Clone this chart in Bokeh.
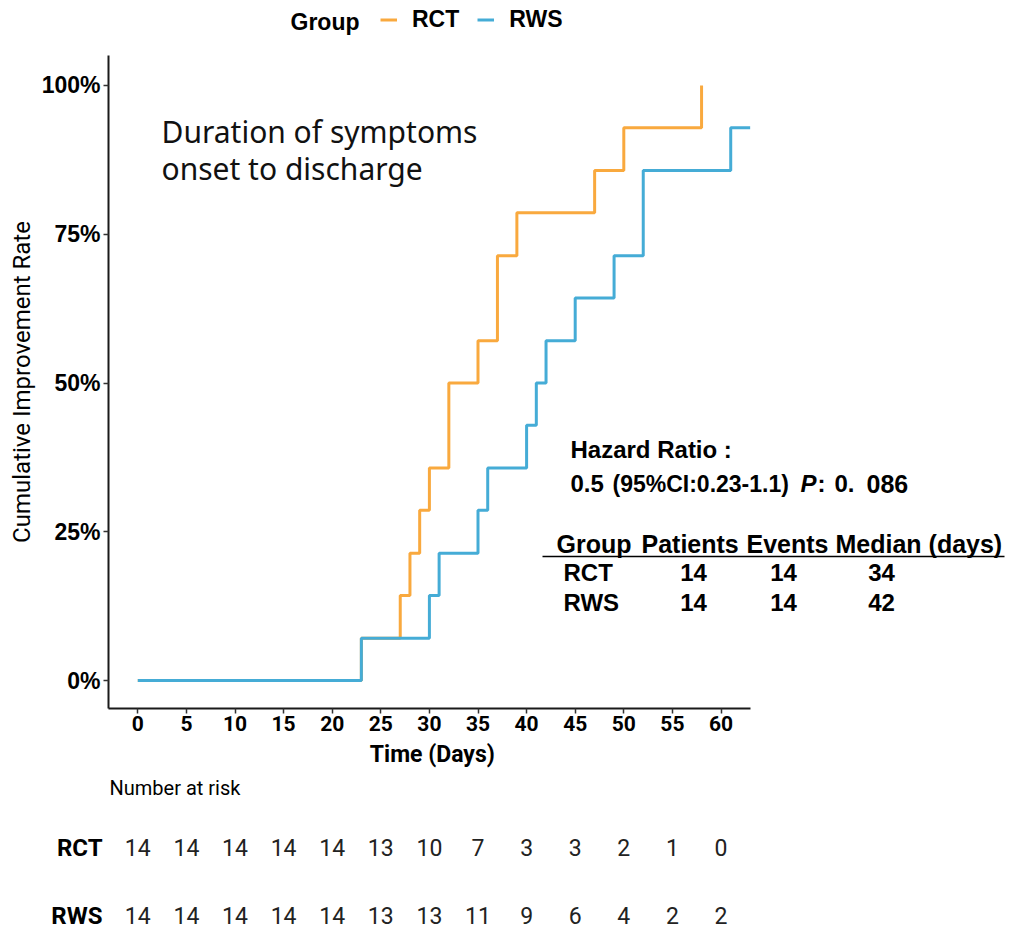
from bokeh.plotting import figure
from bokeh.layouts import column
from bokeh.models import (Range1d, FixedTicker, NumeralTickFormatter, Label,
                          Legend, LegendItem, Arrow, ColumnDataSource)
from bokeh.core.properties import value
from bokeh.embed import file_html
from bokeh.resources import INLINE

# ---------------- data ----------------
group_names = ["RCT", "RWS"]
rct_time = [0, 23, 27, 28, 29, 30, 32, 35, 37, 39, 47, 50, 58]
rct_rate = [0.0, 0.071, 0.143, 0.214, 0.286, 0.357, 0.5, 0.571, 0.714, 0.786, 0.857, 0.929, 1.0]
rws_time = [0, 23, 30, 31, 35, 36, 40, 41, 42, 45, 49, 52, 61, 63]
rws_rate = [0.0, 0.071, 0.143, 0.214, 0.286, 0.357, 0.429, 0.5, 0.571, 0.643, 0.714, 0.857, 0.929, 0.929]
x_ticks = [0, 5, 10, 15, 20, 25, 30, 35, 40, 45, 50, 55, 60]
y_ticks = [0.0, 0.25, 0.5, 0.75, 1.0]
risk_rct = [14, 14, 14, 14, 14, 13, 10, 7, 3, 3, 2, 1, 0]
risk_rws = [14, 14, 14, 14, 14, 13, 13, 11, 9, 6, 4, 2, 2]
table_header = ["Group", "Patients", "Events", "Median (days)"]
patients = [14, 14]
events = [14, 14]
median_days = [34, 42]
hr_title = "Hazard Ratio :"
hr_est = "0.5"
hr_ci = "(95%CI:0.23-1.1)"
p_label = "P"
p_value = [":", "0.", "086"]
note_lines = ["Duration of symptoms", "onset to discharge"]

ORANGE = "#F9A93E"
BLUE = "#45ACD6"
FL, FR, FB = 108, 1005, 708      # page x of frame left/right, page y of main frame bottom
PX_PER_DAY = 9.72
X_LO = -(137.3 - FL) / PX_PER_DAY
X_HI = X_LO + (FR - FL) / PX_PER_DAY
AX_HI = 63.0                     # x axis line stops at day 63

# ---------------- top strip: legend ----------------
T = figure(frame_width=FR - FL, frame_height=55, x_range=Range1d(FL, FR),
           y_range=Range1d(55, 0), x_axis_location=None, y_axis_location=None,
           min_border_left=FL, min_border_right=0, min_border_top=0, min_border_bottom=0,
           toolbar_location=None, output_backend="svg")
T.outline_line_color = None
T.xgrid.visible = False
T.ygrid.visible = False
k_rct = T.line(x=[0, 1], y=[0, 0], line_color=ORANGE, line_width=3)
k_rws = T.line(x=[0, 1], y=[0, 0], line_color=BLUE, line_width=3)
legend = Legend(items=[LegendItem(label=value(group_names[0]), renderers=[k_rct]),
                       LegendItem(label=value(group_names[1]), renderers=[k_rws])],
                orientation="horizontal", location=(380 - FL, 22),
                padding=0, margin=0, spacing=18, label_standoff=15,
                glyph_width=17, glyph_height=25, label_height=25,
                border_line_color=None, background_fill_alpha=0,
                label_text_font="Liberation Sans", label_text_font_style="bold",
                label_text_font_size="23px", label_text_color="black")
T.add_layout(legend)
T.add_layout(Label(x=290, y=21, text="Group", text_font="Liberation Sans",
                   text_font_style="bold", text_font_size="23px",
                   text_baseline="middle", text_color="black"))

# ---------------- main plot ----------------
M = figure(frame_width=FR - FL, frame_height=653,
           x_range=Range1d(X_LO, X_HI), y_range=Range1d(-0.047, 1.0504),
           output_backend="svg", toolbar_location=None,
           min_border_left=FL, min_border_right=0,
           min_border_top=0, min_border_bottom=34)
M.xgrid.visible = False
M.ygrid.visible = False
M.outline_line_color = None

M.step(rct_time, rct_rate, mode="after", line_color=ORANGE, line_width=3)
M.step(rws_time, rws_rate, mode="after", line_color=BLUE, line_width=3)

for ax in (M.xaxis[0], M.yaxis[0]):
    ax.axis_line_width = 2
    ax.axis_line_color = "#1a1a1a"
    ax.major_tick_line_color = "#333333"
    ax.major_tick_line_width = 1.5
    ax.major_tick_out = 5
    ax.major_tick_in = 0
    ax.minor_tick_line_color = None
    ax.major_label_text_color = "black"
    ax.axis_label_text_color = "black"

M.xaxis.bounds = (X_LO, AX_HI)
M.xaxis.ticker = FixedTicker(ticks=x_ticks)
M.xaxis.major_label_text_font = "Roboto"
M.xaxis.major_label_text_font_style = "bold"
M.xaxis.major_label_text_font_size = "21px"
M.xaxis.major_label_standoff = 2

M.yaxis.ticker = FixedTicker(ticks=y_ticks)
M.yaxis.formatter = NumeralTickFormatter(format="0%")
M.yaxis.major_label_text_font = "Liberation Sans"
M.yaxis.major_label_text_font_style = "bold"
M.yaxis.major_label_text_font_size = "23px"
M.yaxis.major_label_standoff = 3
M.yaxis.axis_label = "Cumulative Improvement Rate"
M.yaxis.axis_label_text_font = "Roboto"
M.yaxis.axis_label_text_font_style = "normal"
M.yaxis.axis_label_text_font_size = "24px"
M.yaxis.axis_label_standoff = 3


def lab(fig, x, y, text, size, font="Liberation Sans", style="bold", align="left",
        baseline="middle", color="black", units="screen"):
    fig.add_layout(Label(x=x, y=y, x_units=units, y_units=units, text=text,
                         text_font=font, text_font_style=style, text_font_size=size,
                         text_align=align, text_baseline=baseline, text_color=color))


def mx(px):
    return px - FL


def my(py):
    return FB - py


# note inside the panel
lab(M, mx(161), my(131), note_lines[0], "30px", font="Noto Sans", style="normal",
    color="#111111")
lab(M, mx(161), my(168), note_lines[1], "30px", font="Noto Sans", style="normal",
    color="#111111")

# hazard ratio text
lab(M, mx(570), my(449), hr_title, "24px")
lab(M, mx(570), my(483), hr_est, "24px")
lab(M, mx(612), my(483), hr_ci, "23px")
lab(M, mx(800), my(483), p_label, "24px", style="bold italic")
lab(M, mx(817), my(483), p_value[0], "24px")
lab(M, mx(834), my(483), p_value[1], "24px")
lab(M, mx(866), my(483), p_value[2], "25px")

# summary table
header_x = [556, 641, 746, 835]
for hx, h in zip(header_x, table_header):
    lab(M, mx(hx), my(543), h, "25px")
M.add_layout(Arrow(start=None, end=None, x_start=mx(542), y_start=my(556),
                   x_end=mx(1004), y_end=my(556), start_units="screen",
                   end_units="screen", line_color="black", line_width=1.5))
row_y = [572, 602]
for i, g in enumerate(group_names):
    lab(M, mx(563), my(row_y[i]), g, "24px")
    lab(M, mx(693), my(row_y[i]), str(patients[i]), "24px", align="center")
    lab(M, mx(783), my(row_y[i]), str(events[i]), "24px", align="center")
    lab(M, mx(881), my(row_y[i]), str(median_days[i]), "24px", align="center")

# ---------------- risk table ----------------
R = figure(frame_width=FR - FL, frame_height=187, x_range=M.x_range,
           y_range=Range1d(929, 742), x_axis_location=None,
           output_backend="svg", toolbar_location=None,
           min_border_left=FL, min_border_right=0, min_border_top=0,
           min_border_bottom=0)
R.xgrid.visible = False
R.ygrid.visible = False
R.outline_line_color = None
risk_y = [847, 915]
R.yaxis.ticker = FixedTicker(ticks=risk_y)
R.yaxis.major_label_overrides = {risk_y[0]: group_names[0], risk_y[1]: group_names[1]}
R.yaxis.axis_line_color = None
R.yaxis.major_tick_line_color = None
R.yaxis.minor_tick_line_color = None
R.yaxis.major_tick_out = 0
R.yaxis.major_tick_in = 0
R.yaxis.major_label_standoff = 6
R.yaxis.major_label_text_font = "Roboto"
R.yaxis.major_label_text_font_style = "bold"
R.yaxis.major_label_text_font_size = "24px"
R.yaxis.major_label_text_color = "black"

R.add_layout(Label(x=(X_LO + AX_HI) / 2, y=754, x_offset=3, text="Time (Days)",
                   text_font="Roboto", text_font_style="bold", text_font_size="23px",
                   text_align="center", text_baseline="middle", text_color="black"))
R.add_layout(Label(x=1, y=787, x_units="screen", text="Number at risk", text_font="Roboto",
                   text_font_size="20px", text_baseline="middle", text_color="black"))
for counts, ry in zip([risk_rct, risk_rws], risk_y):
    src = ColumnDataSource(dict(x=x_ticks, y=[ry] * len(x_ticks), t=[str(n) for n in counts]))
    R.text(x="x", y="y", text="t", source=src, text_font=value("Roboto"),
           text_font_size="23px", text_align="center", text_baseline="middle",
           text_color="#222222")

layout = column(T, M, R, spacing=0)
open("out.html", "w").write(file_html(layout, INLINE))
